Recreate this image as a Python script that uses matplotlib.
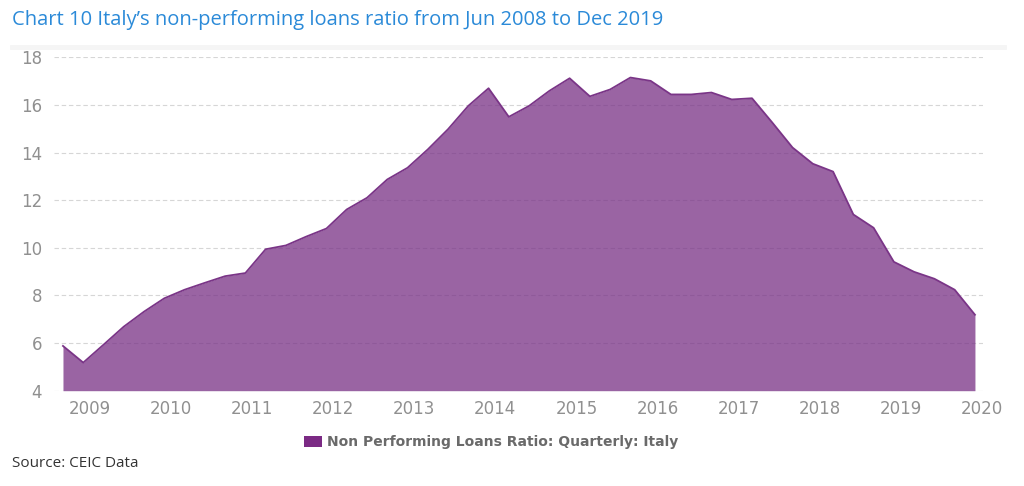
import numpy as np
import pandas as pd
import matplotlib
matplotlib.use('Agg')
import matplotlib.pyplot as plt
from matplotlib.patches import Patch
from matplotlib.lines import Line2D

# Quarterly NPL ratio, Italy (Sep 2008 .. Dec 2019)
first_quarter = '2008Q3'
npl_ratio = [5.88, 5.18, 5.93, 6.69, 7.32, 7.88, 8.24, 8.53, 8.81, 8.94,
             9.94, 10.10, 10.47, 10.81, 11.61, 12.10, 12.87, 13.36, 14.13, 14.98,
             15.96, 16.70, 15.50, 15.96, 16.59, 17.12, 16.36, 16.65, 17.15, 17.01,
             16.44, 16.44, 16.52, 16.23, 16.28, 15.26, 14.21, 13.53, 13.20, 11.40,
             10.84, 9.41, 8.99, 8.70, 8.24, 7.19]
year_ticks = list(range(2009, 2021))
y_ticks = [4, 6, 8, 10, 12, 14, 16, 18]

title = 'Chart 10 Italy\u2019s non-performing loans ratio from Jun 2008 to Dec 2019'
series_name = 'Non Performing Loans Ratio: Quarterly: Italy'
source = 'Source: CEIC Data'

quarters = pd.period_range(first_quarter, periods=len(npl_ratio), freq='Q')
# position of each quarter-end month as a fractional year
x = np.array([q.year + (q.quarter * 3 - 1) / 12 for q in quarters])
y = np.array(npl_ratio)

fig = plt.figure(figsize=(10.24, 4.86), dpi=100)
ax = fig.add_axes([54 / 1024, 1 - 390.7 / 486, 929 / 1024, 333.4 / 486])

ax.set_ylim(4, 18)
ax.set_xlim(2008.556, 2020.016)
ax.set_yticks(y_ticks)
ax.set_xticks(year_ticks)
ax.yaxis.grid(True, color='#d6d6d6', linestyle=(0, (4, 2.5)), linewidth=0.8)
ax.set_axisbelow(True)
for s in ax.spines.values():
    s.set_visible(False)
ax.tick_params(length=0, labelsize=12, colors='#909090')
ax.tick_params(axis='y', pad=8.5)
ax.tick_params(axis='x', pad=7)

ax.fill_between(x, 4, y, color='#783085', alpha=0.75, linewidth=0, zorder=2)
ax.plot(x, y, color='#7a3587', linewidth=1.3, zorder=3)

# faint separator under the title
fig.add_artist(Line2D([0.012, 0.98], [1 - 47 / 486] * 2, color='#f5f5f5',
                      linewidth=3.5, transform=fig.transFigure))

fig.text(0.012, 1 - 20 / 486, title, family='Open Sans', fontsize=14.5,
         color='#2B8AD8', va='center', ha='left')
fig.text(0.012, 1 - 463.5 / 486, source, family='Open Sans', fontsize=11,
         color='#333333', va='center', ha='left')

handle = Patch(facecolor='#7B2A84', edgecolor='none', label=series_name)
fig.legend(handles=[handle], loc='center', bbox_to_anchor=(0.48, 1 - 442 / 486),
           frameon=False, prop=dict(family='DejaVu Sans', weight='bold', size=10),
           labelcolor='#6a6a6a', handlelength=1.3, handleheight=0.85,
           handletextpad=0.35, borderaxespad=0, borderpad=0)

fig.savefig('out.png', dpi=100)
